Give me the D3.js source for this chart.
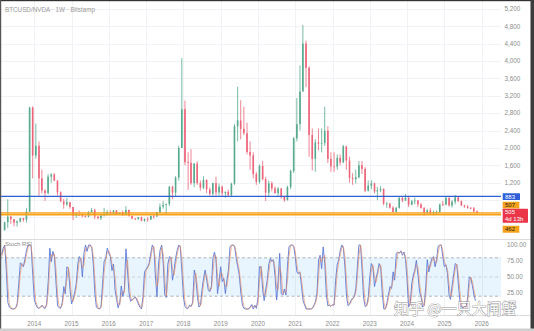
<!DOCTYPE html>
<html><head><meta charset="utf-8">
<script src="https://cdn.jsdelivr.net/npm/d3@7"></script>
<style>html,body{margin:0;padding:0;background:#fff;overflow:hidden}</style>
</head><body><svg id="c" width="534" height="331"></svg>
<script>
// ---- DATA ----
const title = "BTCUSD/NVDA · 1W · Bitstamp";
const firstMonth = "2013-03";          // monthly candles, Mar 2013 .. Nov 2025
const firstOpen = 106;
const priceHigh = [
 300,820,430,365,330,390,390,620,2950,2960,
 2560,2150,1500,1050,1400,1420,1420,1250,1000,830,850,760,
 640,520,560,490,450,540,620,600,430,460,620,570,
 560,570,570,510,560,660,580,440,385,410,420,380,
 410,440,480,530,720,780,720,1120,1130,1350,2050,4070,
 3090,1900,1970,1650,1690,1250,1350,1280,1090,1200,1340,1180,
 1130,1000,1040,1200,2550,3410,3100,2950,2580,2150,1900,1450,
 1620,1700,1330,1250,1230,1110,1100,1080,900,1130,1500,2250,
 3150,3900,4830,4470,3880,2450,2200,2450,2450,2950,2500,1900,
 1900,1850,1850,2070,2050,1800,1420,1500,1700,1700,1560,1250,
 1260,1200,1100,1120,1070,760,730,660,640,880,890,940,
 900,800,860,800,730,640,600,620,560,560,720,780,
 890,860,800,920,880,790,690,680,640,640,560];
const priceLow = [
 100,160,250,195,190,280,300,280,520,1300,
 1750,900,950,780,930,1200,1230,900,750,600,660,600,
 340,390,430,400,400,400,510,360,360,340,420,440,
 470,470,460,460,430,450,420,360,340,350,310,300,
 300,340,370,410,500,600,480,660,820,880,1250,2000,
 1600,1035,1150,1100,1150,1020,1050,960,900,900,900,900,
 880,850,880,880,1150,2150,2200,2300,1850,1500,1300,1150,
 1180,1250,780,880,1000,950,880,830,760,790,1050,1420,
 2150,2400,3300,3400,1800,1480,1450,1950,1900,2050,1650,1450,
 1450,1500,1600,1650,1500,1200,1150,1180,1300,1400,980,1000,
 1050,960,800,980,680,620,600,520,520,600,750,780,
 640,680,700,640,600,440,480,470,450,480,500,660,
 680,650,630,700,760,660,620,600,590,520,495];
const priceClose = [
 290,420,360,277,310,385,345,535,2930,1825,
 2050,1300,1020,960,1340,1390,1250,980,770,700,750,640,
 436,464,462,430,418,526,568,418,382,442,471,524,
 504,560,473,503,454,572,436,374,356,407,322,360,
 353,436,423,519,648,689,710,1106,971,1316,2000,2893,
 1672,1660,1190,1640,1190,1085,1262,1045,943,1190,975,1108,
 960,987,911,1177,2500,2634,2440,2340,1908,1830,1398,1220,
 1585,1283,970,1185,1068,961,1066,870,798,1104,1470,2222,
 2546,3300,4404,3847,2300,1750,2128,2100,2116,2395,1748,1575,
 1570,1770,1667,2037,1710,1310,1280,1325,1600,1518,1015,1133,
 1185,998,1025,1056,720,721,626,526,621,849,790,854,
 693,774,789,701,616,508,564,494,521,529,697,695,
 853,675,761,865,774,678,651,621,611,541,505];

// Stoch RSI, two samples per month starting mid-Feb 2013
const stochStart = "2013-02-15";
const stochK = [
 85,95,100,60,10,3,1,0,0,2, 8,38,72,70,66,78,92,100,100,98,
 56,15,7,2,1,3,6,2,1,8, 45,95,74,90,82,40,5,2,1,10,
 35,24,66,63,30,8,15,25,40,70, 82,78,50,88,100,90,100,100,96,70,
 25,3,1,0,4,40,74,80,95,87, 82,60,70,30,15,2,10,36,20,30,
 94,60,25,12,14,17,19,14,8,3, 0,20,58,62,66,72,87,100,95,50,
 19,70,92,100,71,22,18,70,82,80, 45,60,80,92,100,97,61,19,4,1,
 1,6,4,11,61,50,19,3,6,30, 48,61,45,30,27,35,79,89,77,24,
 45,66,43,48,24,45,61,97,100,100, 97,79,66,53,24,6,1,0,0,0,
 3,7,0,6,1,17,66,66,30,13, 30,45,71,79,74,77,50,14,45,87,
 24,22,31,22,66,97,100,100,98,82, 58,55,58,37,14,6,0,0,0,0,
 1,6,11,24,77,84,63,97,71,22, 5,6,4,7,6,45,69,77,92,100,
 95,66,19,5,8,14,17,19,32,66, 100,100,61,17,4,5,19,50,71,66,
 35,48,58,71,66,24,0,0,9,22, 35,32,58,45,87,89,87,91,84,89,
 77,45,3,9,40,53,61,76,53,27, 19,3,6,35,77,58,71,79,82,66,
 77,98,100,100,82,66,69,55,22,15, 37,55,71,69,40,11,3,2,4,3,
 19,50,49,37,22,13];
const stochD = [
 82,90,98,80,35,7,2,1,0,1, 5,23,55,71,68,72,85,96,100,99,
 77,36,11,5,2,2,5,4,2,5, 27,70,85,82,86,61,23,4,2,6,
 23,30,45,65,47,19,12,20,33,55, 76,80,64,69,94,95,95,100,98,83,
 48,14,2,1,2,22,57,77,88,91, 85,71,65,50,23,9,6,23,28,25,
 62,77,43,19,13,16,18,17,11,6, 2,10,39,60,64,69,80,94,98,73,
 35,45,81,96,86,47,20,44,76,81, 63,53,70,86,96,99,79,40,12,3,
 1,4,5,8,36,56,35,11,5,18, 39,55,53,38,29,31,57,84,83,51,
 35,56,55,46,36,35,53,79,99,100, 99,88,73,60,39,15,4,1,0,0,
 2,5,4,3,4,9,42,66,48,22, 22,38,58,75,77,76,64,32,30,66,
 56,23,27,27,44,82,99,100,99,90, 70,57,57,48,26,10,3,0,0,0,
 1,4,9,18,51,81,74,80,84,47, 14,6,5,6,7,26,57,73,85,96,
 98,81,43,12,7,11,16,18,26,49, 83,100,81,39,11,5,12,35,61,69,
 51,42,53,65,69,45,12,0,5,16, 29,34,45,52,66,88,88,89,88,87,
 83,61,24,6,25,47,57,69,65,40, 23,11,5,21,56,68,65,75,81,74,
 72,88,99,100,91,74,68,62,39,19, 26,46,63,70,55,26,7,3,3,4,
 11,35,50,43,30,18];

const priceTicks = [1200,1600,2000,2400,2800,3200,3600,4000,4400,4800,5200];
const priceGrid = [400,800,1200,1600,2000,2400,2800,3200,3600,4000,4400,4800,5200];
const stochTicks = [100,75,50,25];
const stochLevels = [80,50,20];
const yearLabels = ["2014","2015","2016","2017","2018","2019","2020","2021","2022","2023","2024","2025","2026"];
const resistanceLevel = 883;
const supportTop = 507;
const supportBottom = 462;
const lastPrice = 505;
const countdown = "4d 13h";
const watermark = "知乎 @一只大闸蟹";

// ---- CHART ----
const svg = d3.select("#c");
const W = 534, H = 331, plotR = 501;
const font = "Liberation Sans, Arial, sans-serif";
const axisColor = "#8c8c8c";

const x = d3.scaleTime().domain([new Date(2014,0,1), new Date(2026,0,1)]).range([34.3, 481.7]);
const yP = d3.scaleLinear().domain([0, 5200]).range([234.8, 9]);
const yS = d3.scaleLinear().domain([0, 100]).range([309, 245]);

svg.append("rect").attr("width", W).attr("height", H).attr("fill", "#fff");

const defs = svg.append("defs");
defs.append("clipPath").attr("id","cp").append("rect").attr("x",1).attr("y",1).attr("width",plotR-1).attr("height",238);
defs.append("clipPath").attr("id","cs").append("rect").attr("x",1).attr("y",241).attr("width",plotR-1).attr("height",73);

// grids
const years = yearLabels.map(y => new Date(+y, 0, 1));
const grid = svg.append("g").attr("stroke", "#f0f2f5").attr("stroke-width", 1);
years.forEach(d => {
  grid.append("line").attr("x1", Math.round(x(d))+0.5).attr("x2", Math.round(x(d))+0.5).attr("y1", 1).attr("y2", 315);
});
priceGrid.forEach(v => {
  grid.append("line").attr("x1", 1).attr("x2", plotR).attr("y1", Math.round(yP(v))+0.5).attr("y2", Math.round(yP(v))+0.5);
});

// pane separators
svg.append("line").attr("x1",0).attr("x2",W).attr("y1",239.5).attr("y2",239.5).attr("stroke","#dcdcdc");
svg.append("line").attr("x1",0).attr("x2",W).attr("y1",315.5).attr("y2",315.5).attr("stroke","#dcdcdc");

// ---- price pane ----
const gp = svg.append("g").attr("clip-path","url(#cp)");
gp.append("rect").attr("x",0).attr("width",plotR)
  .attr("y", yP(supportTop)).attr("height", yP(supportBottom)-yP(supportTop))
  .attr("fill","rgba(255,152,0,0.35)");

const months = d3.timeMonth.range(d3.timeParse("%Y-%m")(firstMonth), new Date(2100,0,1)).slice(0, priceClose.length);
const candles = months.map((m, i) => ({
  t: d3.timeDay.offset(m, 15),
  o: i === 0 ? firstOpen : priceClose[i-1],
  h: priceHigh[i], l: priceLow[i], c: priceClose[i]
}));
const upC = "#55a98c", dnC = "#ec6479";
const cg = gp.append("g");
cg.selectAll("line.w").data(candles).join("line")
  .attr("x1", d => x(d.t)).attr("x2", d => x(d.t))
  .attr("y1", d => yP(d.h)).attr("y2", d => yP(d.l))
  .attr("stroke", d => d.c >= d.o ? upC : dnC).attr("stroke-width", 0.8);
cg.selectAll("rect.b").data(candles).join("rect")
  .attr("x", d => x(d.t) - 0.8).attr("width", 1.6)
  .attr("y", d => yP(Math.max(d.o, d.c)))
  .attr("height", d => Math.max(0.8, Math.abs(yP(d.o) - yP(d.c))))
  .attr("fill", d => d.c >= d.o ? upC : dnC);

// horizontal levels
gp.append("line").attr("x1",0).attr("x2",plotR).attr("y1",yP(resistanceLevel)).attr("y2",yP(resistanceLevel))
  .attr("stroke","#2f5fd0").attr("stroke-width",1.2);
[supportTop, supportBottom].forEach(v => {
  gp.append("line").attr("x1",0).attr("x2",plotR).attr("y1",yP(v)).attr("y2",yP(v))
    .attr("stroke","#f7a21b").attr("stroke-width",1.3);
});

// right price axis labels
const ax = svg.append("g").attr("font-family", font).attr("font-size", 6.3).attr("fill", axisColor);
priceTicks.forEach(v => {
  ax.append("text").attr("x", 504.5).attr("y", yP(v)).attr("dy","0.35em").text(d3.format(",")(v));
});

// price tags
function tag(top, h, w, fill, lines, txtColor) {
  svg.append("rect").attr("x", 502.7).attr("y", top).attr("width", w).attr("height", h).attr("fill", fill).attr("rx",0.5);
  lines.forEach((s, k) => {
    svg.append("text").attr("x", 505).attr("y", top + 3.4 + k*6.6).attr("dy","0.35em")
      .attr("font-family", font).attr("font-size", 6).attr("fill", txtColor).text(s);
  });
}
const lastY = yP(lastPrice);
const redTop = lastY - 4, redH = 14;
tag(yP(resistanceLevel) - 3.3, 6.8, 17.3, "#2f5fd8", [String(resistanceLevel)], "#fff");
tag(redTop - 7.1, 6.8, 16.6, "#f7a21b", [String(supportTop)], "#222");
tag(redTop, redH, 25.3, "#ea3648", [String(lastPrice), countdown], "#fff");
tag(redTop + redH + 3, 6.8, 16.6, "#f7a21b", [String(supportBottom)], "#222");

// title
svg.append("text").attr("x", 5).attr("y", 11.5).attr("font-family", font).attr("font-size", 6.3)
  .attr("fill", "#9a9a9a").text(title);

// ---- stoch pane ----
const gs = svg.append("g").attr("clip-path","url(#cs)");
gs.append("rect").attr("x",0).attr("width",plotR).attr("y", yS(80)).attr("height", yS(20)-yS(80))
  .attr("fill","rgba(33,150,243,0.1)");
stochLevels.forEach(v => {
  gs.append("line").attr("x1",0).attr("x2",plotR).attr("y1",yS(v)).attr("y2",yS(v))
    .attr("stroke", v === 50 ? "#c5cbd3" : "#9aa3ad").attr("stroke-width",0.8).attr("stroke-dasharray","3,2.5");
});
const s0 = d3.timeParse("%Y-%m-%d")(stochStart);
const sDate = i => d3.timeDay.offset(s0, Math.round(i * 365.25 / 24));
const line = d3.line().x((d, i) => x(sDate(i))).y(d => yS(d)).curve(d3.curveLinear);
gs.append("path").attr("d", line(stochK)).attr("fill","none").attr("stroke","#5a78d8").attr("stroke-width",0.9);
gs.append("path").attr("d", line(stochD)).attr("fill","none").attr("stroke","#e48a62").attr("stroke-width",0.9).attr("opacity",0.7);

svg.append("text").attr("x", 5).attr("y", 246).attr("font-family", font).attr("font-size", 6)
  .attr("fill", "#8a8a8a").text("Stoch RSI");
stochTicks.forEach(v => {
  ax.append("text").attr("x", 507).attr("y", yS(v)).attr("dy","0.35em").text(d3.format(".2f")(v));
});

// time axis
years.forEach((d, i) => {
  ax.append("text").attr("x", x(d)).attr("y", 326).attr("text-anchor","middle").text(yearLabels[i]);
});

// watermark
svg.append("text").attr("x", 394).attr("y", 314).attr("font-family", "Noto Sans CJK SC, sans-serif")
  .attr("font-size", 15).attr("fill", "#ffffff").attr("stroke", "#8d8d8d").attr("stroke-width", 0.9)
  .attr("paint-order", "stroke").attr("opacity", 0.9).text(watermark);

// frame
svg.append("rect").attr("x",0).attr("y",0).attr("width",W).attr("height",1.2).attr("fill","#333");
svg.append("rect").attr("x",0).attr("y",0).attr("width",1.2).attr("height",H).attr("fill","#555");
svg.append("rect").attr("x",530.5).attr("y",0).attr("width",3.5).attr("height",H).attr("fill","#3c3c3c");
svg.append("rect").attr("x",0).attr("y",328.5).attr("width",W).attr("height",2.5).attr("fill","#cfcfcf");
</script></body></html>
